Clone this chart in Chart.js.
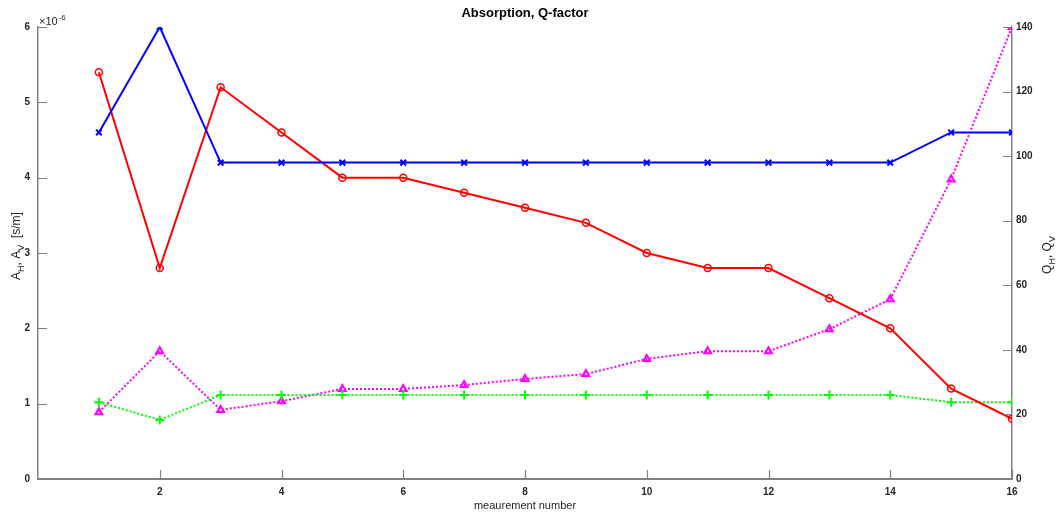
<!DOCTYPE html>
<html>
<head>
<meta charset="utf-8">
<script src="https://cdn.jsdelivr.net/npm/chart.js@4/dist/chart.umd.min.js"></script>
<style>
html,body{margin:0;padding:0;background:#fff;}
#wrap{width:1060px;height:516px;position:relative;}
</style>
</head>
<body>
<div id="wrap"><canvas id="c" width="1060" height="516"></canvas></div>
<script>
const measurement = [1,2,3,4,5,6,7,8,9,10,11,12,13,14,15,16];
const absorptionRed  = [5.4,2.8,5.2,4.6,4.0,4.0,3.8,3.6,3.4,3.0,2.8,2.8,2.4,2.0,1.2,0.8];
const absorptionBlue = [4.6,6.0,4.2,4.2,4.2,4.2,4.2,4.2,4.2,4.2,4.2,4.2,4.2,4.2,4.6,4.6];
const qGreen   = [23.8,18.3,26,26,26,26,26,26,26,26,26,26,26,26,23.8,23.8];
const qMagenta = [20.7,39.6,21.4,24.1,27.9,27.9,29.1,31.0,32.5,37.2,39.6,39.6,46.4,55.7,92.8,140];
const xTicks = [2,4,6,8,10,12,14,16];
const leftTicks = [0,1,2,3,4,5,6];
const rightTicks = [0,20,40,60,80,100,120,140];

const FONT = '"Liberation Sans", Arial, Helvetica, sans-serif';
const AXIS = '#808080';
const TXT = '#262626';

function pts(xs, ys){ return xs.map((x,i)=>({x:x, y:ys[i]})); }

function drawRich(ctx, parts, x, y, align){
  // parts: [{t, sub}] drawn along baseline at (x,y) in current transform
  let w = 0;
  const measured = parts.map(p=>{
    ctx.font = p.sub ? ('9px ' + FONT) : ('12px ' + FONT);
    const m = ctx.measureText(p.t).width; w += m; return m;
  });
  let cx = align === 'center' ? x - w/2 : x;
  parts.forEach((p,i)=>{
    ctx.font = p.sub ? ('9px ' + FONT) : ('12px ' + FONT);
    ctx.fillText(p.t, cx, y + (p.sub ? 4 : 0));
    cx += measured[i];
  });
}

const decor = {
  id:'decor',
  afterDraw(chart){
    const ctx = chart.ctx;
    const a = chart.chartArea;
    const sx = chart.scales.x, sl = chart.scales.yL, sr = chart.scales.yR;
    ctx.save();
    ctx.strokeStyle = AXIS; ctx.lineWidth = 1.2;
    ctx.beginPath();
    xTicks.forEach(v=>{ const p = Math.round(sx.getPixelForValue(v))+0.5; ctx.moveTo(p, a.bottom); ctx.lineTo(p, a.bottom-9); });
    leftTicks.forEach(v=>{ const p = Math.round(sl.getPixelForValue(v))+0.5; ctx.moveTo(a.left, p); ctx.lineTo(a.left+9, p); });
    rightTicks.forEach(v=>{ const p = Math.round(sr.getPixelForValue(v))+0.5; ctx.moveTo(a.right, p); ctx.lineTo(a.right-9, p); });
    ctx.stroke();

    ctx.fillStyle = '#000';
    ctx.textBaseline = 'alphabetic';
    ctx.textAlign = 'center';
    ctx.font = 'bold 13px ' + FONT;
    ctx.fillText('Absorption, Q-factor', (a.left+a.right)/2, 17);

    ctx.fillStyle = TXT;
    ctx.font = '11px ' + FONT;
    ctx.fillText('meaurement number', (a.left+a.right)/2, 509);

    ctx.textAlign = 'left';
    ctx.font = '11px ' + FONT;
    ctx.fillText('\u00d710', 39, 25);
    const w10 = ctx.measureText('\u00d710').width;
    ctx.font = '8px ' + FONT;
    ctx.fillText('-6', 39 + w10 + 1, 20);

    ctx.save();
    ctx.translate(20, 246);
    ctx.rotate(-Math.PI/2);
    ctx.textAlign = 'left';
    drawRich(ctx, [{t:'A'},{t:'H',sub:true},{t:', A'},{t:'V',sub:true},{t:'  [s/m]'}], 0, 0, 'center');
    ctx.restore();

    ctx.save();
    ctx.translate(1051, 255);
    ctx.rotate(-Math.PI/2);
    ctx.textAlign = 'left';
    drawRich(ctx, [{t:'Q'},{t:'H',sub:true},{t:', Q'},{t:'V',sub:true}], 0, 0, 'center');
    ctx.restore();
    ctx.restore();
  }
};

new Chart(document.getElementById('c'), {
  type:'line',
  data:{
    datasets:[
      {data:pts(measurement, absorptionBlue), yAxisID:'yL', borderColor:'#0000ff', backgroundColor:'rgba(0,0,0,0)', borderWidth:2, pointStyle:'crossRot', pointRadius:4, pointBorderWidth:2, tension:0},
      {data:pts(measurement, absorptionRed), yAxisID:'yL', borderColor:'#ff0000', backgroundColor:'rgba(0,0,0,0)', borderWidth:2, pointStyle:'circle', pointRadius:3.5, pointBorderWidth:1.5, tension:0},
      {data:pts(measurement, qGreen), yAxisID:'yR', borderColor:'#00ff00', backgroundColor:'rgba(0,0,0,0)', borderWidth:2, borderDash:[2,2], pointStyle:'cross', pointRadius:4.5, pointBorderWidth:2, tension:0},
      {data:pts(measurement, qMagenta), yAxisID:'yR', borderColor:'#ff00ff', backgroundColor:'rgba(0,0,0,0)', borderWidth:2, borderDash:[2,2], pointStyle:'triangle', pointRadius:4, pointBorderWidth:2, tension:0}
    ]
  },
  options:{
    responsive:false, animation:false,
    layout:{padding:{left:0,right:0,top:27,bottom:0}},
    plugins:{legend:{display:false}, title:{display:false}, tooltip:{enabled:false}},
    elements:{line:{fill:false}},
    scales:{
      x:{type:'linear', min:0, max:16,
        afterBuildTicks(s){ s.ticks = xTicks.map(v=>({value:v})); },
        afterFit(s){ s.height = 37; },
        grid:{display:false, drawTicks:false},
        border:{display:true, color:AXIS, width:2},
        ticks:{color:TXT, font:{family:FONT, size:10, weight:'bold'}, padding:7, maxRotation:0, autoSkip:false}
      },
      yL:{type:'linear', position:'left', min:0, max:6,
        afterBuildTicks(s){ s.ticks = leftTicks.map(v=>({value:v})); },
        afterFit(s){ s.width = 38; },
        grid:{display:false, drawTicks:false},
        border:{display:true, color:AXIS, width:1.5},
        ticks:{color:TXT, font:{family:FONT, size:10, weight:'bold'}, padding:8}
      },
      yR:{type:'linear', position:'right', min:0, max:140,
        afterBuildTicks(s){ s.ticks = rightTicks.map(v=>({value:v})); },
        afterFit(s){ s.width = 48; },
        grid:{display:false, drawTicks:false},
        border:{display:true, color:AXIS, width:1.5},
        ticks:{color:TXT, font:{family:FONT, size:10, weight:'bold'}, padding:4}
      }
    }
  },
  plugins:[decor]
});
</script>
</body>
</html>
